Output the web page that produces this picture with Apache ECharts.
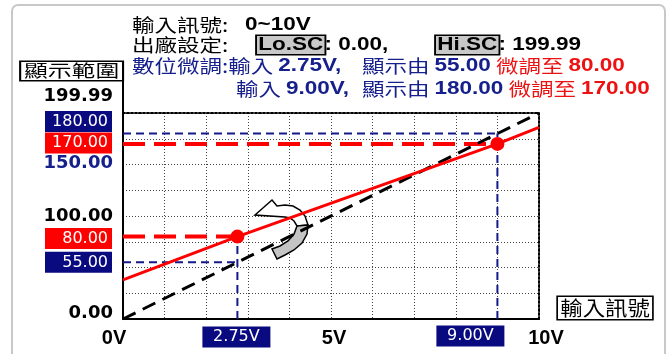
<!DOCTYPE html>
<html>
<head>
<meta charset="utf-8">
<script src="https://cdn.jsdelivr.net/npm/echarts@6/dist/echarts.min.js"></script>
<style>
  html, body { margin: 0; padding: 0; background: #fff; }
  #main { width: 672px; height: 354px; }
</style>
</head>
<body>
<div id="main"></div>
<script>
// 輸入訊號 0~10V, 出廠設定 Lo.SC / Hi.SC
const inputMin = 0
const inputMax = 10
const loSC = 0.00
const hiSC = 199.99
// 數位微調的兩個點
const adjInputs = [2.75, 9.00]
const displayFrom = [55.00, 180.00]
const adjustTo = [80.00, 170.00]
// 微調後的直線
const adjLineX = [0, 2.75, 9.00, 10]
const adjLineY = [38, 80.00, 170.00, 186]
// 軸上的標籤
const yTicks = [199.99, 180.00, 170.00, 150.00, 100.00, 80.00, 55.00, 0.00]
const xTicks = [0, 2.75, 5, 9.00, 10]

const navy = '#0a0a80'
const navyText = '#16208c'
const red = '#ff0000'
const cjk = '"Noto Sans CJK TC", sans-serif'
const latin = '"Liberation Sans", Arial, sans-serif'
const wide = '"DejaVu Sans", sans-serif'

// 標籤外觀 (位置微調)
const yLook = {
  '199.99': { box: false, color: '#000', dy: -17 },
  '180.00': { box: true, color: navy, dy: -12 },
  '170.00': { box: true, color: red, dy: -1 },
  '150.00': { box: false, color: navyText, dy: -1 },
  '100.00': { box: false, color: '#000', dy: 0 },
  '80.00': { box: true, color: red, dy: 2 },
  '55.00': { box: true, color: navy, dy: 0 },
  '0.00': { box: false, color: '#000', dy: -6 },
}
const xLook = {
  '0': { box: false, dx: -9, dy: 19 },
  '2.75': { box: true, dx: -1, dy: 18 },
  '5': { box: false, dx: 3, dy: 19 },
  '9': { box: true, dx: -27, dy: 17 },
  '10': { box: false, dx: 7, dy: 19 },
}

const yLabelData = yTicks.map(v => {
  const k = v.toFixed(2)
  const look = yLook[k]
  const style = look.box
    ? { backgroundColor: look.color, color: '#fff', fontFamily: wide, fontSize: 16,
        width: 59, padding: [2, 4, 1, 4], lineHeight: 18, offset: [-11, look.dy] }
    : { color: look.color, fontFamily: wide, fontWeight: 'bold', fontSize: 18, offset: [-10, look.dy] }
  return {
    value: [0, v],
    label: Object.assign({ show: true, position: 'inside', align: 'right', verticalAlign: 'middle', formatter: k }, style)
  }
})

const xLabelData = xTicks.map(v => {
  const look = xLook[String(v)]
  const style = look.box
    ? { backgroundColor: navy, color: '#fff', fontFamily: wide, fontSize: 16,
        width: 58, padding: [2, 5, 1, 5], lineHeight: 18, formatter: v.toFixed(2) + 'V' }
    : { color: '#000', fontFamily: latin, fontWeight: 'bold', fontSize: 20, formatter: v + 'V' }
  return {
    value: [v, 0],
    label: Object.assign({ show: true, position: 'inside', align: 'center', verticalAlign: 'middle', offset: [look.dx, look.dy] }, style)
  }
})

// 藍色虛線: 原本的顯示值
const blueGuides = []
adjInputs.forEach((x, i) => {
  blueGuides.push([[inputMin, displayFrom[i]], [x, displayFrom[i]]])
  blueGuides.push([[x, 0], [x, Math.max(displayFrom[i], adjustTo[i])]])
})
// 紅色虛線: 微調後的顯示值
const redGuides = adjInputs.map((x, i) => [[inputMin, adjustTo[i]], [x, adjustTo[i]]])

const series = []
blueGuides.forEach(d => series.push({
  type: 'line', data: d, symbol: 'none', silent: true, z: 3,
  lineStyle: { color: '#141a8a', width: 2, type: [8, 5] }
}))
redGuides.forEach(d => series.push({
  type: 'line', data: d, symbol: 'none', silent: true, z: 3,
  lineStyle: { color: red, width: 4, type: [22, 9] }
}))
// 出廠的直線
series.push({
  type: 'line', data: [[inputMin, loSC], [inputMax, hiSC]], symbol: 'none', z: 4,
  lineStyle: { color: '#000', width: 3, type: [14, 8] }
})
// 微調後的直線
series.push({
  type: 'line', data: adjLineX.map((x, i) => [x, adjLineY[i]]), symbol: 'none', z: 5,
  lineStyle: { color: red, width: 3 }
})
series.push({
  type: 'scatter', data: adjInputs.map((x, i) => [x, adjustTo[i]]), symbolSize: 14, z: 6,
  itemStyle: { color: red, opacity: 1 }
})
series.push({
  type: 'scatter', data: yLabelData, symbolSize: 1, z: 7, silent: true,
  itemStyle: { color: 'rgba(0,0,0,0)', opacity: 1 }
})
series.push({
  type: 'scatter', data: xLabelData, symbolSize: 1, z: 7, silent: true,
  itemStyle: { color: 'rgba(0,0,0,0)', opacity: 1 }
})

function head(x, y, text, rich, align) {
  return {
    type: 'text', x: x, y: y, scaleX: 1.25, z: 10,
    style: { text: text, rich: rich, align: align || 'left', verticalAlign: 'middle',
      fontFamily: cjk, fontSize: 18, fill: '#000' }
  }
}
const rich = {
  c: { fontFamily: cjk, fontSize: 18, fill: '#000' },
  b: { fontFamily: latin, fontSize: 18, fontWeight: 'bold', fill: '#000' },
  box: { fontFamily: latin, fontSize: 18, fontWeight: 'bold', fill: '#000', backgroundColor: '#c8c8c8',
    borderColor: '#000', borderWidth: 1.5, padding: [0, 1, 0, 1], lineHeight: 17 },
  n: { fontFamily: cjk, fontSize: 18, fill: navyText },
  nb: { fontFamily: latin, fontSize: 18, fontWeight: 'bold', fill: navyText },
  r: { fontFamily: cjk, fontSize: 18, fill: '#ee1111' },
  rb: { fontFamily: latin, fontSize: 18, fontWeight: 'bold', fill: '#ee1111' },
}
const f2 = v => v.toFixed(2)

// 旋轉箭頭 (裝飾)
const arrowTop = [[255, 215], [272, 200], [277, 206], [285, 205], [293, 206], [300, 210], [305, 216], [308, 225],
  [297, 226], [294, 221], [290, 218], [285, 217]]
const arrowBottom = [[308, 225], [307, 234], [302, 243], [294, 250], [285, 255], [277, 259], [272, 249],
  [280, 246], [288, 241], [294, 234], [297, 226]]

const graphic = [
  { type: 'rect', z: 0, shape: { x: 12, y: 5, width: 653, height: 370, r: 6 },
    style: { fill: 'none', stroke: '#c8c8c8', lineWidth: 2 } },
  head(132, 25, '{c|輸入訊號:}', rich),
  head(245, 25, '{b|' + inputMin + '~' + inputMax + 'V}', rich),
  head(132, 45, '{c|出廠設定:}', rich),
  head(257, 45, '{box|Lo.SC}{b|: ' + f2(loSC) + ',}', rich),
  head(436, 45, '{box|Hi.SC}{b|: ' + f2(hiSC) + '}', rich),
  head(132, 66, '{n|數位微調:輸入 }{nb|' + f2(adjInputs[0]) + 'V,}', rich),
  head(236, 89, '{n|輸入 }{nb|' + f2(adjInputs[1]) + 'V,}', rich),
  head(362, 66, '{n|顯示由 }{nb|' + f2(displayFrom[0]) + '}{r| 微調至 }{rb|' + f2(adjustTo[0]) + '}', rich),
  head(362, 89, '{n|顯示由 }{nb|' + f2(displayFrom[1]) + '}{r| 微調至 }{rb|' + f2(adjustTo[1]) + '}', rich),
  // 軸名稱
  { type: 'text', x: 122, y: 71, scaleX: 1.4, z: 10,
    style: { text: '顯示範圍', align: 'right', verticalAlign: 'middle', fontFamily: cjk, fontSize: 17,
      fill: '#000', backgroundColor: '#fff', borderColor: '#000', borderWidth: 1.5, padding: [1, 2, 1, 2], lineHeight: 16 } },
  { type: 'line', z: 1, shape: { x1: 123, y1: 80, x2: 123, y2: 114 }, style: { stroke: '#000', lineWidth: 2 } },
  { type: 'text', x: 558, y: 308, scaleX: 1.12, z: 10,
    style: { text: '輸入訊號', align: 'left', verticalAlign: 'middle', fontFamily: cjk, fontSize: 20,
      fill: '#000', backgroundColor: '#fff', borderColor: '#000', borderWidth: 1.5, padding: [1, 2, 1, 2], lineHeight: 20 } },
  { type: 'polygon', z: 1, shape: { points: arrowTop }, style: { fill: '#fff', stroke: '#000', lineWidth: 1.5 } },
  { type: 'polygon', z: 1, shape: { points: arrowBottom }, style: { fill: '#c4c4c4', stroke: '#000', lineWidth: 1.5 } },
]

const gridLine = { show: true, lineStyle: { color: '#444', width: 1, type: [1, 2] } }
const border = { show: true, onZero: false, lineStyle: { color: '#000', width: 2, type: [2, 2] } }

const chart = echarts.init(document.getElementById('main'))
chart.setOption({
  animation: false,
  backgroundColor: '#fff',
  grid: { left: 123, right: 133, top: 113, bottom: 35 },
  xAxis: [
    { type: 'value', min: inputMin, max: inputMax, interval: 1,
      axisLine: { show: true, onZero: false, lineStyle: { color: '#000', width: 2 } },
      axisTick: { show: false }, axisLabel: { show: false }, splitLine: gridLine },
    { type: 'value', position: 'top', min: inputMin, max: inputMax, interval: 1,
      axisLine: border, axisTick: { show: false }, axisLabel: { show: false }, splitLine: { show: false } }
  ],
  yAxis: [
    { type: 'value', min: 0, max: 200, interval: 25,
      axisLine: { show: true, onZero: false, lineStyle: { color: '#000', width: 2 } },
      axisTick: { show: false }, axisLabel: { show: false }, splitLine: gridLine },
    { type: 'value', position: 'right', min: 0, max: 200, interval: 25,
      axisLine: border, axisTick: { show: false }, axisLabel: { show: false }, splitLine: { show: false } }
  ],
  graphic: graphic,
  series: series
})
</script>
</body>
</html>
